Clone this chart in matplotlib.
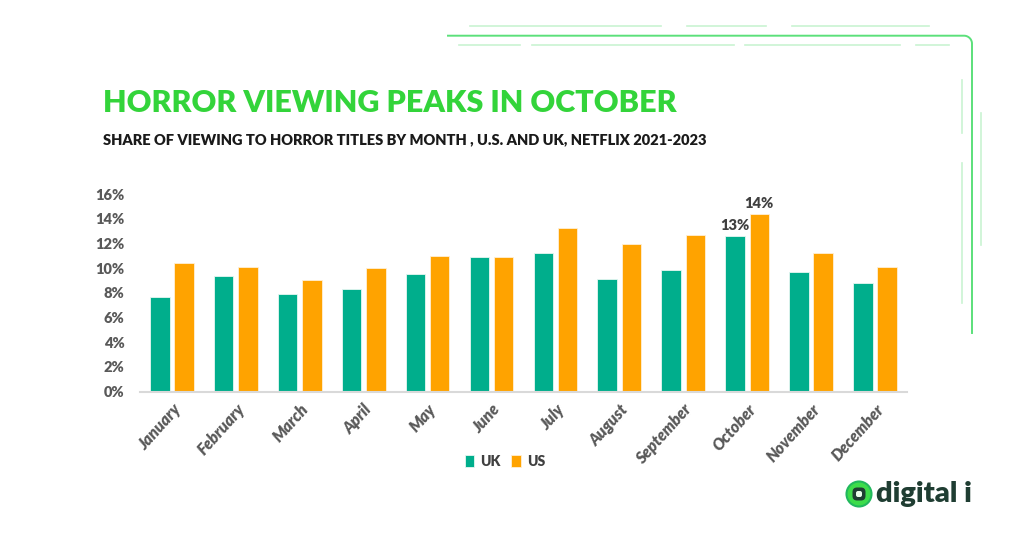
import numpy as np
import matplotlib.pyplot as plt
from matplotlib.lines import Line2D
from matplotlib.patches import Circle, FancyBboxPatch

# dados
meses = ["January", "February", "March", "April", "May", "June", "July",
         "August", "September", "October", "November", "December"]
uk = [7.65, 9.40, 7.92, 8.30, 9.52, 10.94, 11.21, 9.16, 9.89, 12.59, 9.70, 8.78]
us = [10.43, 10.08, 9.08, 10.02, 11.00, 10.89, 13.29, 11.94, 12.67, 14.40, 11.21, 10.08]
rotulos = {9: ("13%", "14%")}

verde_uk = "#00AE8C"
laranja_us = "#FFA300"
cinza = "#595959"

plt.rcParams["font.family"] = ["Lato", "DejaVu Sans"]

fig = plt.figure(figsize=(10.24, 5.35), dpi=100)
ax = fig.add_axes([0.1367, 0.2679, 0.749, 0.3691])

x = np.arange(len(meses))
largura = 0.305
desloc = 0.19
b1 = ax.bar(x - desloc, uk, largura, color=verde_uk, edgecolor="#e6f7f2", linewidth=0.6, label="UK")
b2 = ax.bar(x + desloc, us, largura, color=laranja_us, edgecolor="#fff0d6", linewidth=0.6, label="US")

# rótulos de outubro
for i, (t1, t2) in rotulos.items():
    ax.text(x[i] - desloc, uk[i] + 0.35, t1, ha="center", va="bottom",
            fontsize=10.5, fontweight="heavy", color="#404040")
    ax.text(x[i] + desloc, us[i] + 0.35, t2, ha="center", va="bottom",
            fontsize=10.5, fontweight="heavy", color="#404040")

ax.set_xlim(-0.5, len(meses) - 0.5)
ax.set_ylim(0, 16)
ax.set_yticks(np.arange(0, 17, 2))
ax.set_yticklabels([f"{v}%" for v in range(0, 17, 2)], fontsize=10.5,
                   fontweight="heavy", color=cinza)
ax.set_xticks(x)
ax.set_xticklabels(meses, rotation=48, ha="right", rotation_mode="anchor",
                   fontsize=11.5, fontweight="heavy", fontstyle="italic", color=cinza)
ax.tick_params(axis="both", length=0)
ax.tick_params(axis="y", pad=11)
ax.tick_params(axis="x", pad=7)
for s in ["top", "right", "left"]:
    ax.spines[s].set_visible(False)
ax.spines["bottom"].set_color("#d9d9d9")
ax.spines["bottom"].set_linewidth(1.5)

fig.legend(handles=[b1, b2], labels=["UK", "US"], loc="center",
           bbox_to_anchor=(0.493, 0.138), ncol=2, frameon=False,
           handlelength=0.7, handleheight=0.9, handletextpad=0.4, columnspacing=0.8,
           prop={"family": "Lato", "weight": "heavy", "size": 10},
           labelcolor="#404040")

# títulos
fig.text(103 / 1024, 1 - 103 / 535, "HORROR VIEWING PEAKS IN OCTOBER",
         fontsize=22, fontweight="heavy", color="#33D43A", va="center", ha="left")
fig.text(103 / 1024, 1 - 140 / 535,
         "SHARE OF VIEWING TO HORROR TITLES BY MONTH , U.S. AND UK, NETFLIX 2021-2023",
         fontsize=10.5, fontweight="heavy", color="#1a1a1a", va="center", ha="left")


# linhas decorativas (coordenadas em pixels)
def px(xp, yp):
    return np.array(xp) / 1024, 1 - np.array(yp) / 535


def linha(xs, ys, cor, lw):
    xx, yy = px(xs, ys)
    fig.add_artist(Line2D(xx, yy, color=cor, lw=lw, transform=fig.transFigure))


t = np.linspace(0, np.pi / 2, 20)
r = 8
xs = [448, 964] + list(964 + r * np.sin(t)) + [972, 972]
ys = [35.7, 35.7] + list(35.7 + r * (1 - np.cos(t))) + [44, 333]
linha(xs, ys, "#5be07a", 1.4)

claro = "#c9f3d2"
for a, b in [(470, 661), (687, 766), (792, 929)]:
    linha([a, b], [26, 26], claro, 1.2)
for a, b in [(459, 520), (532, 734), (745, 900), (916, 949)]:
    linha([a, b], [44.7, 44.7], claro, 1.2)
for a, b in [(80, 133), (163, 303)]:
    linha([962, 962], [a, b], claro, 1.2)
linha([981, 981], [113, 245], claro, 1.2)

# logo
fig.add_artist(Circle((859, 535 - 494), 12.5, transform=None, facecolor="#3ddc4a",
                      edgecolor="#22b85e", lw=1.5))
fig.add_artist(FancyBboxPatch((852.5, 535 - 500.5), 13, 13, boxstyle="round,pad=0,rounding_size=4.5",
                              transform=None, facecolor="#1f3d32", edgecolor="none"))
fig.add_artist(FancyBboxPatch((856, 535 - 497), 6, 6, boxstyle="round,pad=0,rounding_size=2",
                              transform=None, facecolor="#e8fbe9", edgecolor="none"))
fig.text(876 / 1024, 1 - 494 / 535, "digital i", fontsize=21, fontweight="heavy",
         color="#1f3d32", va="center", ha="left")

fig.savefig("out.png", dpi=100, facecolor="white")
